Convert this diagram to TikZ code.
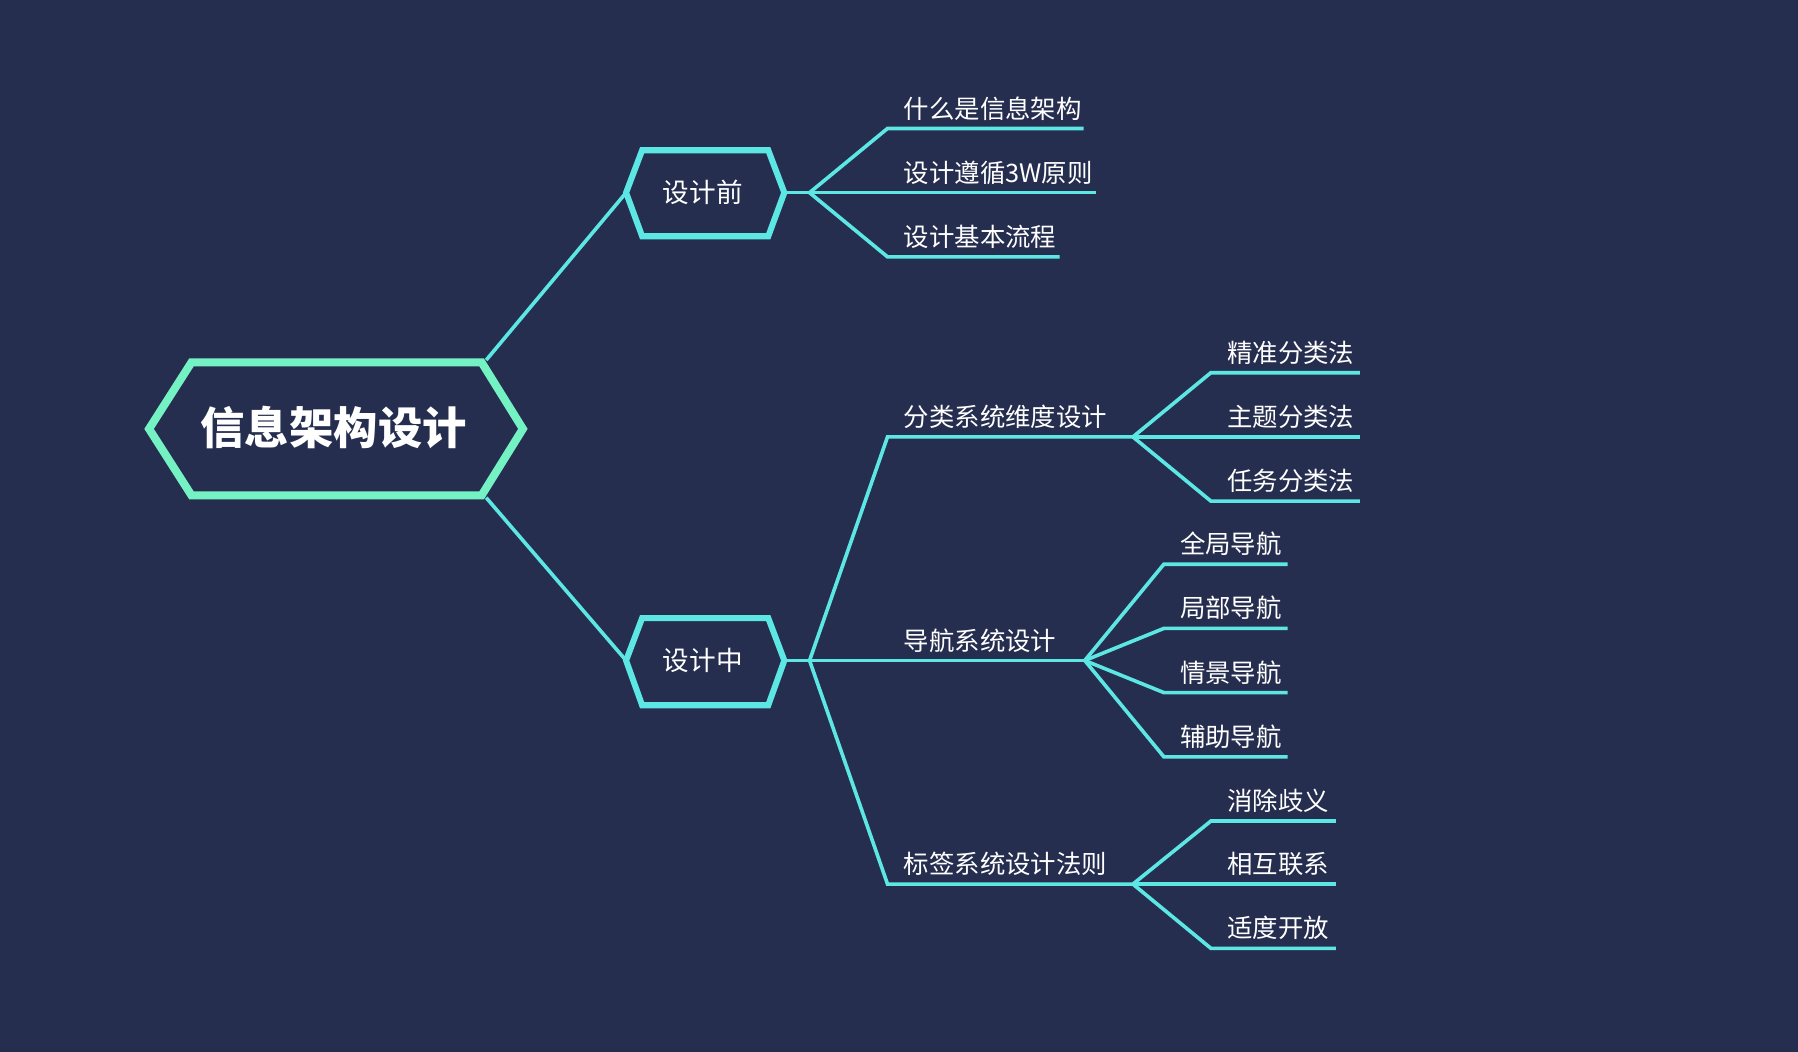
\documentclass[tikz,border=0pt]{standalone}
\usepackage{fontspec}
\newfontfamily\cjk{Noto Sans CJK SC}
\usetikzlibrary{positioning}
\definecolor{bg}{HTML}{262E4F}
\definecolor{mgreen}{HTML}{74F2C4}
\definecolor{mcyan}{HTML}{5CE6E4}
\tikzstyle{l1}=[mcyan, line width=0.9pt]
\tikzstyle{leaf}=[anchor=south west, text=white, inner sep=1pt, font=\cjk\fontsize{6.3}{7}\selectfont]
\tikzstyle{hexl}=[text=white, font=\cjk\fontsize{6.6}{8}\selectfont]
\begin{document}
\begin{tikzpicture}[x=0.01cm, y=-0.01cm]
    \fill[bg] (0,0) rectangle (1568,917);

    % root
    \draw[mgreen, line width=2pt, line join=miter] (130,374) -- (167,316) -- (420,316) -- (456,374) -- (420,432) -- (167,432) -- cycle;
    \node[text=white, font=\cjk\bfseries\fontsize{11}{13}\selectfont] (root) at (291,373) {信息架构设计};
    \coordinate (rt) at (424,314); \coordinate (rb) at (424,434);

    % second level
    \draw[mcyan, line width=1.5pt] (546,168) -- (560,131) -- (670,131) -- (684,168) -- (670,206) -- (560,206) -- cycle;
    \node[hexl] (pre) at (613,168) {设计前};
    \draw[mcyan, line width=1.5pt] (546,576) -- (560,539) -- (670,539) -- (684,576) -- (670,615) -- (560,615) -- cycle;
    \node[hexl] (mid) at (613,576) {设计中};
    \coordinate (prel) at (546,168); \coordinate (prer) at (684,168);
    \coordinate (midl) at (546,576); \coordinate (midr) at (684,576);
    \draw[l1] (rt) -- (prel);
    \draw[l1] (rb) -- (midl);

    % before design
    \coordinate (j1) at (706,168);
    \draw[l1] (prer) -- (j1);
    \draw[l1] (j1) -- (774,112) -- (945,112);
    \draw[l1] (j1) -- (956,168);
    \draw[l1] (j1) -- (774,224) -- (924,224);
    \node[leaf] (a1) at (784,109) {什么是信息架构};
    \node[leaf] (a2) at (784,165) {设计遵循3W原则};
    \node[leaf] (a3) at (784,221) {设计基本流程};

    % during design
    \coordinate (j2) at (706,576);
    \coordinate (ja) at (988,381); \coordinate (jb) at (946,576); \coordinate (jc) at (988,771);
    \draw[l1] (midr) -- (j2);
    \draw[l1] (j2) -- (774,381) -- (ja);
    \draw[l1] (j2) -- (jb);
    \draw[l1] (j2) -- (774,771) -- (jc);
    \node[leaf] (b1) at (784,378) {分类系统维度设计};
    \node[leaf] (b2) at (784,573) {导航系统设计};
    \node[leaf] (b3) at (784,768) {标签系统设计法则};

    \draw[l1] (ja) -- (1056,325) -- (1186,325);
    \draw[l1] (ja) -- (1186,381);
    \draw[l1] (ja) -- (1056,437) -- (1186,437);
    \node[leaf] (c1) at (1066,322) {精准分类法};
    \node[leaf] (c2) at (1066,378) {主题分类法};
    \node[leaf] (c3) at (1066,434) {任务分类法};

    \draw[l1] (jb) -- (1015,492) -- (1123,492);
    \draw[l1] (jb) -- (1015,548) -- (1123,548);
    \draw[l1] (jb) -- (1015,604) -- (1123,604);
    \draw[l1] (jb) -- (1015,660) -- (1123,660);
    \node[leaf] (d1) at (1025,489) {全局导航};
    \node[leaf] (d2) at (1025,545) {局部导航};
    \node[leaf] (d3) at (1025,601) {情景导航};
    \node[leaf] (d4) at (1025,657) {辅助导航};

    \draw[l1] (jc) -- (1056,716) -- (1165,716);
    \draw[l1] (jc) -- (1165,771);
    \draw[l1] (jc) -- (1056,827) -- (1165,827);
    \node[leaf] (e1) at (1066,713) {消除歧义};
    \node[leaf] (e2) at (1066,768) {相互联系};
    \node[leaf] (e3) at (1066,824) {适度开放};
\end{tikzpicture}
\end{document}
